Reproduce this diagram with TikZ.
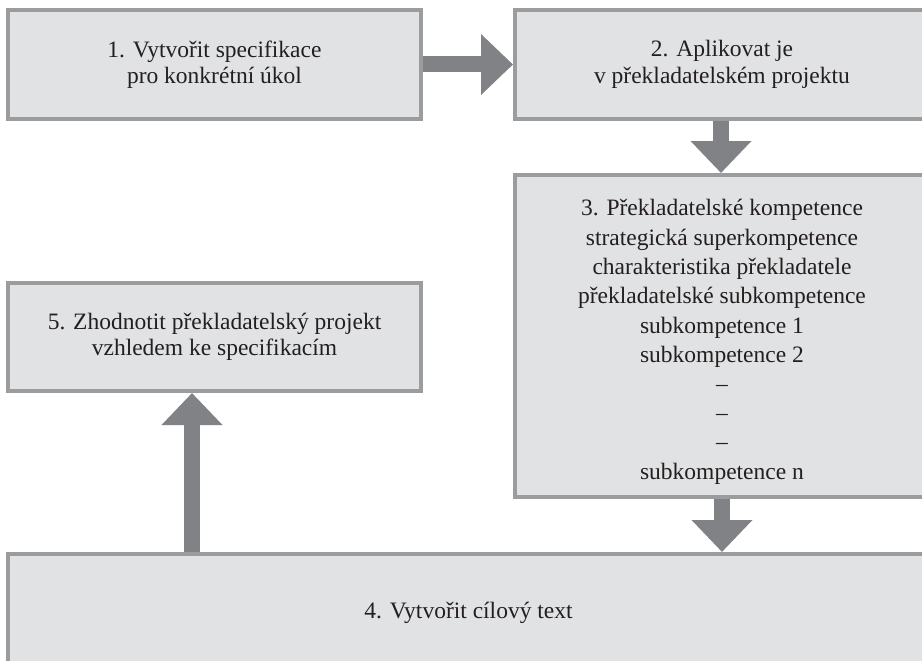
\documentclass[tikz,border=0pt]{standalone}
\usepackage{fontspec}
\setmainfont{Liberation Serif}
\usetikzlibrary{arrows.meta,calc}
\definecolor{boxfill}{HTML}{E1E2E3}
\definecolor{boxline}{HTML}{9B9C9E}
\definecolor{flow}{HTML}{808285}
\definecolor{ink}{HTML}{231F20}
\begin{document}
\begin{tikzpicture}[x=1pt,y=-1pt,
  box/.style={draw=boxline, fill=boxfill, line width=4pt, rectangle,
    inner sep=0pt, anchor=north west, align=center, text=ink,
    font=\fontsize{23.5}{26.5}\selectfont},
  boxtext/.style={align=center, text=ink, inner sep=0pt,
    font=\fontsize{23.5}{29.2}\selectfont},
  flowarrow/.style={draw=flow, line width=16pt,
    -{Triangle[length=32pt,width=59pt]}}]
% page area; boxes on the right run past the edge
\clip (0,0) rectangle (922,661);
\fill[white] (0,0) rectangle (922,661);

% process boxes
\node[box, minimum width=413pt, minimum height=109pt] (b1) at (6,8)
  {1. Vytvořit specifikace\\pro konkrétní úkol};
\node[box, minimum width=414pt, minimum height=109pt] (b2) at (513,8)
  {2. Aplikovat je\\v překladatelském projektu};
\node[box, minimum width=414pt, minimum height=322pt] (b3) at (513,173) {};
\node[boxtext] (b3t) at ($(b3.center)+(0,5.5)$)
  {3. Překladatelské kompetence\\[1pt]
   strategická superkompetence\\
   charakteristika překladatele\\
   překladatelské subkompetence\\
   subkompetence 1\\
   subkompetence 2\\
   –\\
   –\\
   –\\
   subkompetence n};
\node[box, minimum width=413pt, minimum height=108pt] (b5) at (6,281)
  {5. Zhodnotit překladatelský projekt\\vzhledem ke specifikacím};
\node[box, minimum width=921pt, minimum height=118pt] (b4) at (6,552)
  {4. Vytvořit cílový text};

% flow arrows
\draw[flowarrow] (b1.east) -- (b2.west);
\draw[flowarrow] ($(b2.south west)!0.5!(b2.south west -| 929,0)$) -- ($(b3.north west)!0.5!(b3.north west -| 929,0)$);
\draw[flowarrow] (b3.south -| b3t.center) -- (b4.north -| b3t.center);
\draw[flowarrow] (b4.north -| 192,0) -- (b5.south -| 192,0);
\end{tikzpicture}
\end{document}
